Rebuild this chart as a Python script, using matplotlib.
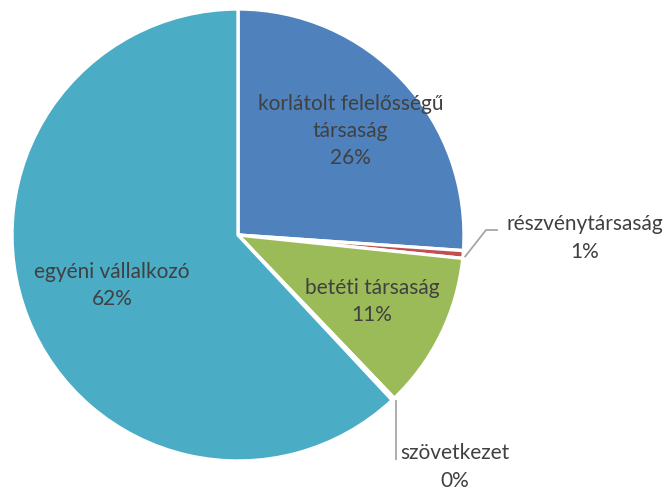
import numpy as np
import matplotlib
matplotlib.use("Agg")
import matplotlib.pyplot as plt

categories = ["korlátolt felelősségű\ntársaság", "részvénytársaság", "betéti társaság",
              "szövetkezet", "egyéni vállalkozó"]
values = [26.1, 0.55, 11.2, 0.2, 61.95]
colors = ["#4F81BD", "#C0504D", "#9BBB59", "#8064A2", "#4BACC6"]

plt.rcParams['font.family'] = ['Lato', 'DejaVu Sans']
W, H = 671, 489
fig = plt.figure(figsize=(W / 100, H / 100), dpi=100)
ax = fig.add_axes([0, 0, 1, 1])

cx, cy, R = 238, H - 236, 226
wedges, _ = ax.pie(values, colors=colors, startangle=90, counterclock=False,
                   center=(cx, cy), radius=R, frame=True,
                   wedgeprops=dict(edgecolor='white', linewidth=2.4))
ax.set_xlim(0, W)
ax.set_ylim(0, H)
ax.set_aspect('equal')
ax.axis('off')

total = sum(values)
tc = '#404040'
fs = 15
ls = 1.45
inside = {0: 0.68, 2: 0.66, 4: 0.60}
for i, w in enumerate(wedges):
    pct = f"{round(values[i] / total * 100):.0f}%"
    txt = categories[i] + "\n" + pct
    mid = np.deg2rad((w.theta1 + w.theta2) / 2)
    if i in inside:
        r = inside[i] * R
        ax.text(cx + r * np.cos(mid), cy + r * np.sin(mid), txt, ha='center', va='center',
                fontsize=fs, color=tc, linespacing=ls)

# részvénytársaság label with leader
m1 = np.deg2rad((wedges[1].theta1 + wedges[1].theta2) / 2)
p0 = (cx + R * np.cos(m1), cy + R * np.sin(m1))
ax.plot([p0[0] + 2, 486, 497], [p0[1] - 2, H - 231, H - 231], color='#A6A6A6', lw=1.3)
ax.text(585, H - 238, categories[1] + "\n" + f"{round(values[1] / total * 100):.0f}%",
        ha='center', va='center', fontsize=fs, color=tc, linespacing=ls)

# szövetkezet label with leader
m3 = np.deg2rad((wedges[3].theta1 + wedges[3].theta2) / 2)
q0 = (cx + R * np.cos(m3), cy + R * np.sin(m3))
ax.plot([396, 396], [q0[1] - 2, H - 460], color='#A6A6A6', lw=1.3)
ax.text(455, H - 467, categories[3] + "\n" + f"{round(values[3] / total * 100):.0f}%",
        ha='center', va='center', fontsize=fs, color=tc, linespacing=ls)

fig.savefig("out.png", dpi=100)
